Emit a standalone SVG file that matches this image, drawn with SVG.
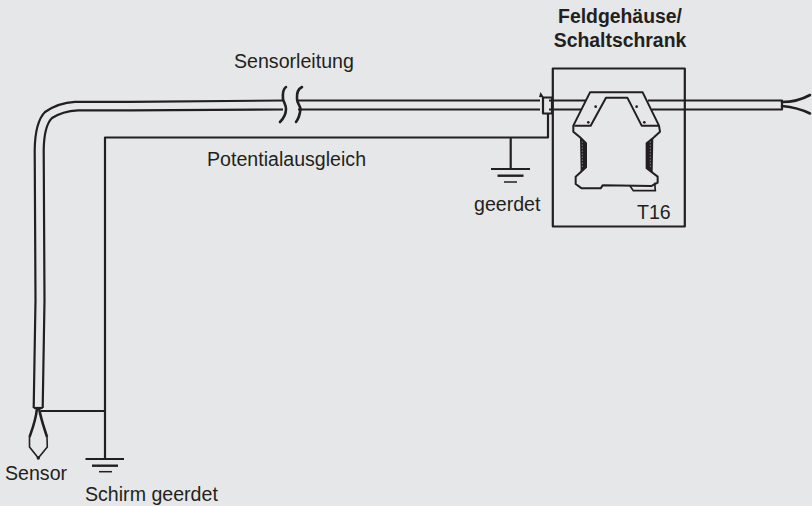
<svg xmlns="http://www.w3.org/2000/svg" width="812" height="506" viewBox="0 0 812 506">
<style>
text{font-family:"Liberation Sans",Arial,sans-serif;font-size:19.6px;fill:#231f20}
.b{font-weight:bold;font-size:19.4px}
.l{fill:none;stroke:#231f20;stroke-width:2.200;stroke-linejoin:round}
.t{fill:none;stroke:#231f20;stroke-width:2.600;stroke-linecap:round}
.g{fill:none;stroke:#231f20}
</style>
<rect width="812" height="506" fill="#e6e7e8"/>
<g id="connectors">
<path class="l" d="M283,100.500L130,101.800H75C60,102.500 52,107 45,112C38,119 35,130 34.700,150L35.500,300L33.700,408"/>
<path class="l" d="M283,109.500L130,110.300H78C66,111 58,114 52,118C47,123 44,132 43.700,150L44.500,300L42.700,408"/>
<path class="l" d="M33.700,408H42.700"/>
<path class="l" d="M298,100.500H540M298,109.500H540"/>
<path class="l" d="M549,100.500H586M549,109.500H584"/>
<path class="l" d="M648,100.500H782V109.500H652"/>
<path class="l" d="M105,459V137.500H548V114"/>
<path class="l" d="M41,411H105"/>
<path class="l" d="M510.700,137.500V169"/>
<path class="t" stroke-width="2" d="M286,87C283,89 282.500,93 283,99C284,103 286,105 286,109C286,114 284,118 280,122"/>
<path class="t" stroke-width="2" d="M302,87C298,89 296.500,93 297,99C297,103 300,105 300.500,109C300,114 299,118 296,122"/>
</g>
<g id="ground-sensor" class="g">
<path stroke-width="2" d="M85.500,459H124"/><path stroke-width="2.400" d="M92,465.700H118"/><path stroke-width="1.500" d="M99,471.700H112"/>
</g>
<g id="ground-cabinet" class="g">
<path stroke-width="2" d="M491,169H530"/><path stroke-width="2.400" d="M497.500,175.700H523.500"/><path stroke-width="1.500" d="M504,182H517"/>
</g>
<g id="sensor">
<path fill="none" stroke="#231f20" stroke-width="2.600" d="M37,408C36,420 32,430 29.500,437M39,408C41,420 45,430 47,437"/>
<path fill="none" stroke="#231f20" stroke-width="1.600" stroke-linejoin="round" d="M29.500,437L29.500,447L38.300,458L47.300,447L47,437"/>
<circle cx="38.300" cy="458" r="1.700" fill="#231f20"/>
<text x="5" y="480">Sensor</text>
<text x="85" y="501">Schirm geerdet</text>
</g>
<g id="cable-end">
<path class="t" d="M782,102C793,102 801,100 810,95"/>
<path class="t" d="M782,106C793,107 801,109 810,113.500"/>
</g>
<g id="cabinet">
<rect class="l" x="552.800" y="68.500" width="132" height="158" fill="none"/>
<text class="b" x="620" y="22.700" text-anchor="middle">Feldgehäuse/</text>
<text class="b" x="620" y="46.700" text-anchor="middle">Schaltschrank</text>
<text x="637" y="218.500">T16</text>
</g>
<g id="gland">
<rect class="l" x="543" y="97.500" width="9" height="16" fill="#e6e7e8"/>
<path d="M540.500,92L544,97.500L539,97Z" fill="#231f20"/>
</g>
<g id="module" transform="translate(530,60) scale(.3333)">
<path fill="#e6e7e8" stroke="#231f20" stroke-width="6" stroke-linejoin="round" d="M180,97H338L387,197L390,215L372,232L350,250V325L383,350V368L365,378L218,376L212,385H155L137,372V350L168,322V250L150,232L130,215V197Z"/>
<path fill="none" stroke="#231f20" stroke-width="6" stroke-linejoin="round" d="M133,197H182L228,113H292L335,197H387"/>
<path fill="none" stroke="#231f20" stroke-width="5" d="M300,378L310,392H376L374,368"/>
<path fill="#231f20" d="M150,232L168,250V322L152,335ZM370,232L350,250V325L368,338Z"/>
<path fill="none" stroke="#e6e7e8" stroke-width="2" stroke-dasharray="3 6" d="M157,245V325M361,245V325"/>
<g fill="#231f20"><circle cx="197" cy="140" r="4"/><circle cx="175" cy="187" r="4"/><circle cx="320" cy="140" r="4"/><circle cx="343" cy="187" r="4"/></g>
</g>
<g id="labels">
<text x="234" y="67.500">Sensorleitung</text>
<text x="207" y="166">Potentialausgleich</text>
<text x="474" y="211">geerdet</text>
</g>
</svg>
